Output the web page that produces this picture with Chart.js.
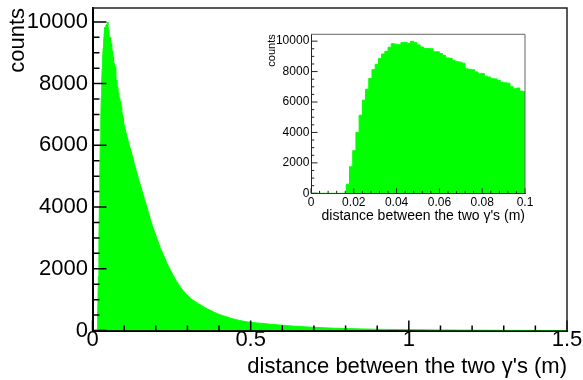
<!DOCTYPE html>
<html>
<head>
<meta charset="utf-8">
<script src="https://cdn.jsdelivr.net/npm/chart.js@4.4.1/dist/chart.umd.min.js"></script>
<style>
  html, body { margin: 0; padding: 0; background: #fff; }
  #wrap { position: relative; width: 583px; height: 380px; overflow: hidden; }
  #mainChart { position: absolute; left: 0; top: 0; }
  #insetChart { position: absolute; left: 262px; top: 28px; }
</style>
</head>
<body>
<div id="wrap">
  <canvas id="mainChart" width="583" height="380"></canvas>
  <canvas id="insetChart" width="272" height="200"></canvas>
</div>
<script>
// --- data ---
// fine bins (width 0.0015) from 0 to ~0.1, used by both the inset and the main plot
const fineBinWidth = 0.0015;
const fineCounts = [
  0, 0, 0, 0, 0, 0, 0, 0, 0, 0, 0,
  600, 1750, 2800, 4000, 5130, 6120, 6840, 7550, 8130, 8480,
  8850, 9150, 9330, 9600, 9830, 9800, 9760, 9900, 9920, 9850,
  9990, 9900, 9750, 9620, 9520, 9520, 9500, 9300, 9300, 9180,
  9050, 8900, 8870, 8720, 8650, 8620, 8550, 8180, 8150, 8120,
  7980, 7850, 7880, 7700, 7640, 7530, 7520, 7420, 7300, 7260,
  7240, 7000, 6870, 6920, 6720, 6680
];
// coarser reading of the main histogram, 0.1 -> 0.5 in steps of 0.01
const midStart = 0.1, midBinWidth = 0.01;
const midCounts = [
  6450, 6050, 5700, 5300, 4930, 4580, 4230, 3900, 3520, 3230,
  2940, 2660, 2430, 2190, 1980, 1790, 1600, 1450, 1310, 1190,
  1090, 1000, 935, 870, 810, 745, 690, 640, 590, 545,
  505, 470, 440, 405, 375, 350, 325, 305, 285, 270
];
// tail, 0.5 -> 1.5 in steps of 0.02
const tailStart = 0.5, tailBinWidth = 0.02;
const tailCounts = [
  255, 235, 215, 195, 180, 160, 145, 132, 118, 108,
  98, 88, 80, 72, 66, 60, 55, 50, 46, 42,
  38, 35, 32, 30, 28, 26, 24, 22, 20, 19,
  17, 16, 15, 13, 12, 11, 10, 9, 8, 7,
  6, 6, 5, 5, 4, 4, 3, 3, 3, 2
];

const mainXTicks = [0, 0.5, 1, 1.5];
const mainYTicks = [0, 2000, 4000, 6000, 8000, 10000];
const insetXTicks = [0, 0.02, 0.04, 0.06, 0.08, 0.1];
const insetYTicks = [0, 2000, 4000, 6000, 8000, 10000];
const yMax = 10450;

const xTitle = "distance between the two \u03b3's (m)";
const yTitle = 'counts';
const FONT = '"Liberation Sans", Arial, Helvetica, sans-serif';
const GREEN = '#00ff00';

// left edge of every bin (for the stepped inset)
function edgePoints(start, width, counts) {
  return counts.map((c, i) => ({ x: start + i * width, y: c }));
}
// bin centres (main plot, bins are ~1px or less wide there)
function centrePoints(start, width, counts) {
  return counts.map((c, i) => ({ x: start + (i + 0.5) * width, y: c }));
}

const mainPoints = [
  { x: 0, y: 0 },
  ...centrePoints(0, fineBinWidth, fineCounts),
  ...centrePoints(midStart, midBinWidth, midCounts),
  ...centrePoints(tailStart, tailBinWidth, tailCounts),
  { x: 1.5, y: tailCounts[tailCounts.length - 1] }
];
const insetPoints = [
  ...edgePoints(0, fineBinWidth, fineCounts),
  { x: fineCounts.length * fineBinWidth, y: fineCounts[fineCounts.length - 1] }
];

// major + minor tick values, ROOT style
function tickValues(majors, ndiv, max) {
  const step = (majors[1] - majors[0]) / ndiv;
  const out = [];
  majors.forEach(m => {
    for (let j = 0; j < ndiv; j++) {
      const v = m + j * step;
      if (v <= max + 1e-9) out.push({ v: v, major: j === 0 });
    }
  });
  return out;
}

// inward ticks + top/right frame lines
const rootTicks = {
  id: 'rootTicks',
  afterDraw(chart, args, o) {
    const { ctx, chartArea: a, scales: { x, y } } = chart;
    ctx.save();
    ctx.strokeStyle = o.color;
    ctx.lineWidth = o.lineWidth;
    ctx.beginPath();
    tickValues(o.xTicks, o.xDiv, x.max).forEach(t => {
      const px = x.getPixelForValue(t.v);
      ctx.moveTo(px, a.bottom);
      ctx.lineTo(px, a.bottom - (t.major ? o.xLen : o.xLen / 2));
    });
    tickValues(o.yTicks, o.yDiv, y.max).forEach(t => {
      const py = y.getPixelForValue(t.v);
      ctx.moveTo(a.left, py);
      ctx.lineTo(a.left + (t.major ? o.yLen : o.yLen / 2), py);
    });
    ctx.stroke();
    ctx.strokeStyle = o.frameColor;
    ctx.lineWidth = o.frameWidth;
    ctx.beginPath();
    ctx.moveTo(a.left, a.top);
    ctx.lineTo(a.right, a.top);
    ctx.lineTo(a.right, a.bottom);
    ctx.stroke();
    ctx.restore();
  }
};

function histChart(canvasId, points, cfg) {
  return new Chart(document.getElementById(canvasId), {
    type: 'line',
    data: {
      datasets: [{
        data: points,
        stepped: cfg.stepped,
        fill: 'origin',
        backgroundColor: GREEN,
        borderColor: GREEN,
        borderWidth: 1,
        pointRadius: 0
      }]
    },
    options: {
      responsive: false,
      animation: false,
      events: [],
      layout: { padding: cfg.padding },
      plugins: {
        legend: { display: false },
        tooltip: { enabled: false },
        rootTicks: cfg.ticks
      },
      scales: {
        x: {
          type: 'linear',
          min: 0,
          max: cfg.xMax,
          grid: { display: false, drawTicks: false },
          border: { display: true, color: cfg.axisColor, width: cfg.axisWidth },
          afterBuildTicks: s => { s.ticks = cfg.ticks.xTicks.map(v => ({ value: v })); },
          afterFit: s => { s.height = cfg.xAxisHeight; s.paddingLeft = 0; s.paddingRight = 0; },
          ticks: {
            padding: cfg.xTickPad,
            color: '#000',
            maxRotation: 0,
            autoSkip: false,
            font: { family: FONT, size: cfg.tickSize },
            callback: v => String(v)
          },
          title: {
            display: true,
            text: xTitle,
            align: 'end',
            color: '#000',
            font: { family: FONT, size: cfg.xTitleSize },
            padding: { top: 0, bottom: cfg.xTitlePad }
          }
        },
        y: {
          type: 'linear',
          min: 0,
          max: yMax,
          grid: { display: false, drawTicks: false },
          border: { display: true, color: cfg.axisColor, width: cfg.axisWidth },
          afterBuildTicks: s => { s.ticks = cfg.ticks.yTicks.map(v => ({ value: v })); },
          afterFit: s => { s.width = cfg.yAxisWidth; s.paddingTop = 0; s.paddingBottom = 0; },
          ticks: {
            padding: cfg.yTickPad,
            color: '#000',
            autoSkip: false,
            font: { family: FONT, size: cfg.tickSize },
            callback: v => String(v)
          },
          title: {
            display: true,
            text: yTitle,
            align: 'end',
            color: '#000',
            font: { family: FONT, size: cfg.yTitleSize },
            padding: { top: cfg.yTitlePad, bottom: 0 }
          }
        }
      }
    },
    plugins: [rootTicks]
  });
}

// main histogram
histChart('mainChart', mainPoints, {
  stepped: false,
  padding: { top: 8, right: 16, left: 0, bottom: 0 },
  xMax: 1.5,
  xAxisHeight: 49.5,
  yAxisWidth: 92.5,
  axisColor: '#000',
  axisWidth: 2,
  tickSize: 22,
  xTickPad: -3.7,
  yTickPad: 4.5,
  xTitleSize: 22,
  xTitlePad: 0,
  yTitleSize: 22,
  yTitlePad: 4.3,
  ticks: {
    xTicks: mainXTicks, xDiv: 5, xLen: 10,
    yTicks: mainYTicks, yDiv: 4, yLen: 14,
    color: '#000', lineWidth: 1.5,
    frameColor: '#222', frameWidth: 1.5
  }
});

// inset: zoom on 0 - 0.1
histChart('insetChart', insetPoints, {
  stepped: 'before',
  padding: { top: 6.3, right: 9, left: 0, bottom: 0 },
  xMax: 0.1,
  xAxisHeight: 34.7,
  yAxisWidth: 49,
  axisColor: '#222',
  axisWidth: 1,
  tickSize: 12,
  xTickPad: 1.8,
  yTickPad: 1.7,
  xTitleSize: 14,
  xTitlePad: 3.6,
  yTitleSize: 11,
  yTitlePad: 3.4,
  ticks: {
    xTicks: insetXTicks, xDiv: 5, xLen: 5,
    yTicks: insetYTicks, yDiv: 4, yLen: 6.5,
    color: '#222', lineWidth: 1,
    frameColor: '#666', frameWidth: 1
  }
});
</script>
</body>
</html>
